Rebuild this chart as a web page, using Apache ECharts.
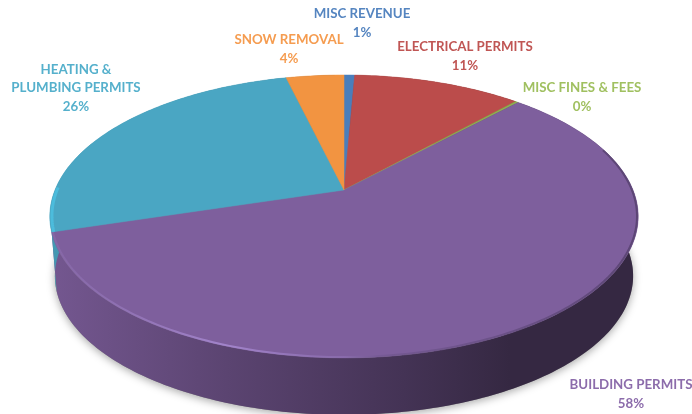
<!DOCTYPE html>
<html>
<head>
<meta charset="utf-8">
<style>
  html, body { margin: 0; padding: 0; background: #fff; }
  #chart { width: 692px; height: 414px; }
</style>
</head>
<body>
<div id="chart"></div>
<script src="https://cdn.jsdelivr.net/npm/echarts@6/dist/echarts.min.js"></script>
<script>
// values, clockwise from 12 o'clock
const categories = ['MISC REVENUE', 'ELECTRICAL PERMITS', 'MISC FINES & FEES', 'BUILDING PERMITS', 'HEATING &\nPLUMBING PERMITS', 'SNOW REMOVAL'];
const shares = [0.7, 11.1, 0.2, 58.3, 25.9, 3.8];
const colors = ['#4a7ebb', '#bb4c4b', '#8fb04f', '#7e5f9d', '#4aa6c3', '#f29441'];
const labelColors = ['#5585c0', '#c05654', '#a0c060', '#8c6cab', '#55b0cc', '#f59c50'];

// label centres, px
const labelPos = [[362, 23], [465, 56], [582, 97], [631, 394], [76, 88], [289, 49]];

// tilted disc: top face and the bottom face under it, with some perspective
const top_face = { cx: 344, cy: 190, rx: 289, ry: 136.5 };
const bottom_face = { cx: 344, cy: 250, rx: 284, ry: 134 };
const persp = 0.187;

const total = shares.reduce((a, b) => a + b, 0);
const starts = [];
shares.reduce((sum, v, i) => { starts[i] = sum / total; return sum + v; }, 0);

const proj = (face, frac, scale = 1) => {
  const a = frac * Math.PI * 2;
  const d = 1 + persp * Math.cos(a) * scale;
  return [
    face.cx + face.rx * scale * Math.sin(a) / d,
    face.cy - face.ry * scale * Math.cos(a) / d
  ];
};

const arc = (face, from, to, scale = 1) => {
  const n = Math.max(2, Math.ceil((to - from) * 360));
  const pts = [];
  for (let i = 0; i <= n; i++) pts.push(proj(face, from + (to - from) * i / n, scale));
  return pts;
};

const hGradient = (stops) => ({
  type: 'linear', x: 50, y: 0, x2: 640, y2: 0, global: true,
  colorStops: stops.map(s => ({ offset: s[0], color: s[1] }))
});

// multiply a #rrggbb colour by k
const shade = (hex, k) => {
  const n = parseInt(hex.slice(1), 16);
  return 'rgb(' + [n >> 16, (n >> 8) & 255, n & 255].map(c => Math.round(c * k)).join(',') + ')';
};

const sliceData = shares.map((v, i) => [i, v]);

const renderWall = (params) => {
  const i = params.dataIndex;
  const from = starts[i];
  const to = from + shares[i] / total;
  const c = colors[i];
  return {
    type: 'polygon',
    shape: { points: arc(top_face, from, to).concat(arc(bottom_face, from, to).reverse()) },
    style: {
      fill: hGradient([
        [0, shade(c, 0.92)],
        [0.3, shade(c, 0.72)],
        [0.6, shade(c, 0.54)],
        [0.78, shade(c, 0.42)],
        [1, shade(c, 0.42)]
      ])
    }
  };
};

const renderTop = (params) => {
  const i = params.dataIndex;
  const from = starts[i];
  const to = from + shares[i] / total;
  return {
    type: 'polygon',
    shape: { points: [[top_face.cx, top_face.cy]].concat(arc(top_face, from, to)) },
    style: { fill: colors[i], stroke: colors[i], lineWidth: 0.5 }
  };
};

// soft bevel along the rim of the big slice, light on the left and dark on the right
const renderRim = (params) => {
  const i = params.dataIndex;
  if (categories[i] !== 'BUILDING PERMITS') return { type: 'group', children: [] };
  return {
    type: 'polyline',
    shape: { points: arc(top_face, 0.2, starts[i] + shares[i] / total, 0.996) },
    style: {
      fill: 'none',
      lineWidth: 2,
      stroke: hGradient([
        [0, 'rgba(160,130,200,0.2)'],
        [0.3, 'rgba(166,136,208,0.9)'],
        [0.5, 'rgba(150,120,190,0.45)'],
        [0.6, 'rgba(70,55,95,0.2)'],
        [1, 'rgba(50,38,68,0.45)']
      ])
    }
  };
};

// light edge on the left of the heating slice
const renderEdge = (params) => {
  const i = params.dataIndex;
  if (categories[i].indexOf('HEATING') !== 0) return { type: 'group', children: [] };
  return {
    type: 'polyline',
    shape: { points: arc(top_face, starts[i], starts[i] + 0.05, 0.993) },
    style: { fill: 'none', lineWidth: 3, stroke: '#4cbcdc' }
  };
};

const renderShadow = () => ({
  type: 'polygon',
  shape: { points: arc(bottom_face, 0, 1) },
  style: {
    fill: '#888',
    shadowColor: 'rgba(0,0,0,0.35)',
    shadowBlur: 9,
    shadowOffsetX: 0,
    shadowOffsetY: 2
  }
});

const renderLabel = (params) => {
  const i = params.dataIndex;
  return {
    type: 'text',
    x: labelPos[i][0],
    y: labelPos[i][1],
    style: {
      text: categories[i] + '\n' + Math.round(shares[i] / total * 100) + '%',
      fill: labelColors[i],
      font: 'bold 13.3px Lato, "Open Sans", sans-serif',
      lineHeight: 18.5,
      align: 'center',
      verticalAlign: 'middle'
    }
  };
};

const layer = (render, z, data = sliceData) => ({
  type: 'custom',
  coordinateSystem: 'none',
  silent: true,
  animation: false,
  z: z,
  clip: false,
  renderItem: render,
  data: data
});

const Chart = echarts.init(document.getElementById('chart'), null, { renderer: 'canvas' });
Chart.setOption({
  animation: false,
  backgroundColor: '#ffffff',
  series: [
    layer(renderShadow, 1, [[0, total]]),
    layer(renderWall, 2),
    layer(renderTop, 3),
    layer(renderRim, 4),
    layer(renderEdge, 4),
    layer(renderLabel, 5)
  ]
});
</script>
</body>
</html>
